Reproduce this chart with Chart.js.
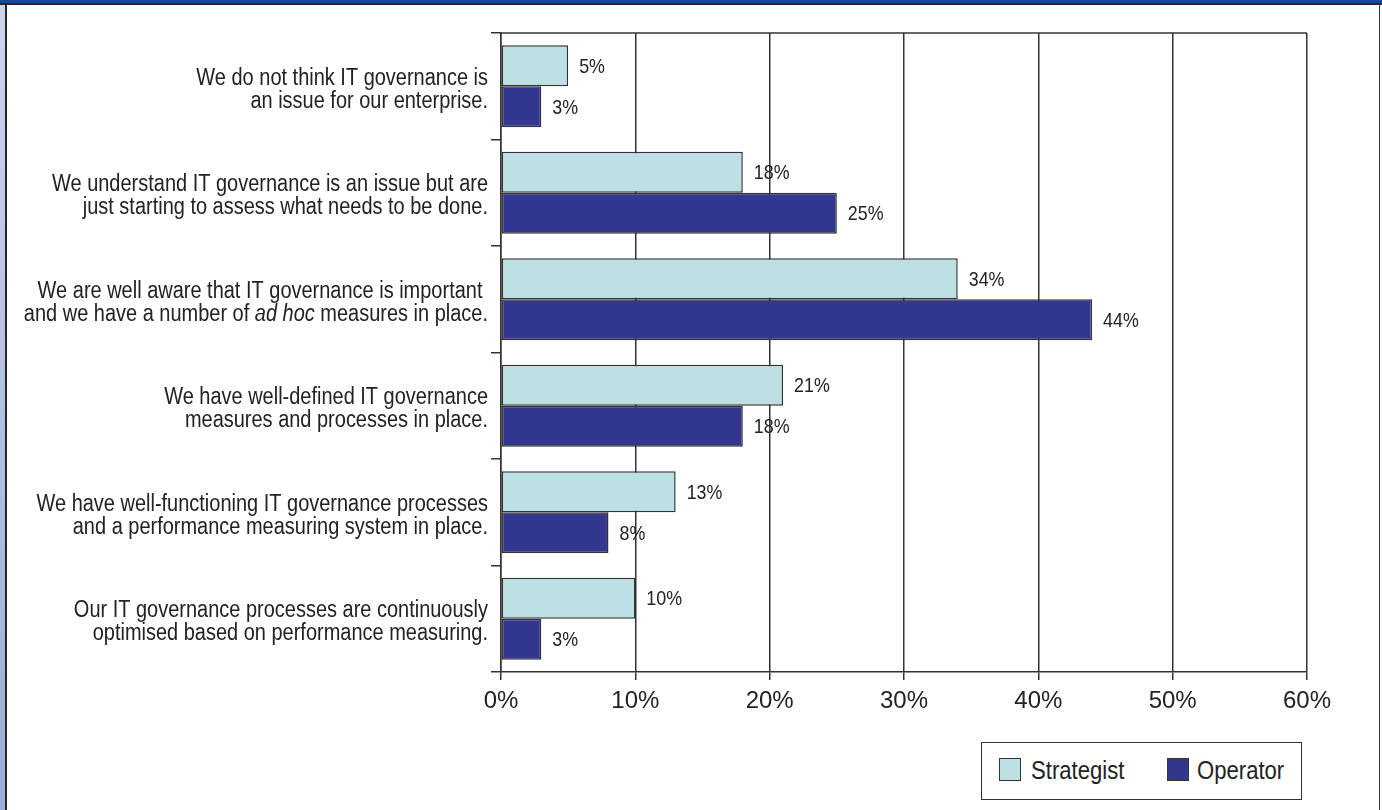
<!DOCTYPE html>
<html>
<head>
<meta charset="utf-8">
<title>IT governance maturity: Strategist vs Operator</title>
<script src="https://cdn.jsdelivr.net/npm/chart.js@4/dist/chart.umd.min.js"></script>
<style>
  html, body { margin: 0; padding: 0; background: #ffffff; }
  body { width: 1382px; height: 810px; position: relative; overflow: hidden; }
  .band-top { position: absolute; left: 0; top: 0; width: 1382px; height: 3px; background: #0f4c9c; }
  .rule-top { position: absolute; left: 0; top: 3px; width: 1382px; height: 2px; background: #262626; }
  .strip-left { position: absolute; left: 0; top: 5px; width: 5px; height: 805px;
                background: linear-gradient(#cdd4ea, #9badd8); }
  .rule-left { position: absolute; left: 5px; top: 3px; width: 2px; height: 807px; background: #262626; }
  .rule-right { position: absolute; left: 1379px; top: 3px; width: 1px; height: 807px; background: #3a3a3a; }
  #wrap { position: absolute; left: 7px; top: 5px; width: 1372px; height: 805px; }
  #legend { position: absolute; left: 981px; top: 742px; width: 319px; height: 56px;
            border: 1.5px solid #333; background: #fff;
            font-family: "Liberation Sans", Arial, sans-serif;
            font-size: 26px; color: #222; }
  #legend .sw { position: absolute; top: 15px; width: 20px; height: 21px; border: 1.5px solid #333; }
  #legend .tx { position: absolute; top: 12px; line-height: 30px; white-space: nowrap;
                transform: scaleX(0.85); transform-origin: 0 50%; }
</style>
</head>
<body>
<div class="band-top"></div>
<div class="rule-top"></div>
<div class="strip-left"></div>
<div class="rule-left"></div>
<div class="rule-right"></div>
<div id="wrap"><canvas id="chart"></canvas></div>
<div id="legend"></div>

<script>
// Survey answers (multi-line labels; *text* is set in italics)
const categories = [
  ["We do not think IT governance is", "an issue for our enterprise."],
  ["We understand IT governance is an issue but are", "just starting to assess what needs to be done."],
  ["We are well aware that IT governance is important ", "and we have a number of *ad hoc* measures in place."],
  ["We have well-defined IT governance", "measures and processes in place."],
  ["We have well-functioning IT governance processes", "and a performance measuring system in place."],
  ["Our IT governance processes are continuously", "optimised based on performance measuring."]
];

const seriesNames = ["Strategist", "Operator"];
const strategistValues = [5, 18, 34, 21, 13, 10];
const operatorValues   = [3, 25, 44, 18, 8, 3];
const seriesColors = ["#bde0e4", "#33378f"];

const xTickValues = [0, 10, 20, 30, 40, 50, 60];

const SANS = '"Liberation Sans", Arial, sans-serif';
const CONDENSE = 0.85;   // horizontal squeeze giving a condensed face
const INK = '#222222';
const LINE = '#333333';

// Draw condensed text: returns the drawn width
function condensedWidth(ctx, text) {
  return ctx.measureText(text).width * CONDENSE;
}
function fillCondensed(ctx, text, x, y) {
  ctx.save();
  ctx.translate(x, y);
  ctx.scale(CONDENSE, 1);
  ctx.fillText(text, 0, 0);
  ctx.restore();
}

// Legend with a framed box under the plot
(function buildLegend() {
  const lg = document.getElementById('legend');
  const swatchX = [17, 185];
  const textX = [49, 215];
  seriesNames.forEach((name, i) => {
    const sw = document.createElement('div');
    sw.className = 'sw';
    sw.style.left = swatchX[i] + 'px';
    sw.style.background = seriesColors[i];
    const tx = document.createElement('div');
    tx.className = 'tx';
    tx.style.left = textX[i] + 'px';
    tx.textContent = name;
    lg.appendChild(sw);
    lg.appendChild(tx);
  });
})();

// Category labels on the left, right-aligned, with italic runs
const categoryLabelPlugin = {
  id: 'categoryLabels',
  afterDraw(chart) {
    const ctx = chart.ctx;
    const y = chart.scales.y;
    const rightX = y.right - 13;
    const lineH = 23;
    ctx.save();
    ctx.fillStyle = INK;
    ctx.textBaseline = 'alphabetic';
    ctx.textAlign = 'left';
    categories.forEach((lines, i) => {
      const cy = y.getPixelForValue(i);
      lines.forEach((line, j) => {
        const base = cy + (j - (lines.length - 1) / 2) * lineH + 10;
        const parts = line.split('*').map((t, k) => ({ t, italic: k % 2 === 1 }));
        let total = 0;
        parts.forEach(p => {
          ctx.font = (p.italic ? 'italic ' : '') + '23.5px ' + SANS;
          p.w = condensedWidth(ctx, p.t);
          total += p.w;
        });
        let x = rightX - total;
        parts.forEach(p => {
          ctx.font = (p.italic ? 'italic ' : '') + '23.5px ' + SANS;
          fillCondensed(ctx, p.t, x, base);
          x += p.w;
        });
      });
    });
    ctx.restore();
  }
};

// Top edge of the plot frame and value labels after each bar
const frameAndValuesPlugin = {
  id: 'frameAndValues',
  afterDatasetsDraw(chart) {
    const ctx = chart.ctx;
    const a = chart.chartArea;
    ctx.save();
    ctx.strokeStyle = LINE;
    ctx.lineWidth = 1.5;
    ctx.beginPath();
    ctx.moveTo(a.left, a.top);
    ctx.lineTo(a.right, a.top);
    ctx.stroke();

    ctx.fillStyle = INK;
    ctx.font = '21px ' + SANS;
    ctx.textBaseline = 'alphabetic';
    ctx.textAlign = 'left';
    chart.data.datasets.forEach((ds, di) => {
      chart.getDatasetMeta(di).data.forEach((bar, i) => {
        fillCondensed(ctx, ds.data[i] + '%', bar.x + 11, bar.y + 7);
      });
    });
    ctx.restore();
  }
};

new Chart(document.getElementById('chart'), {
  type: 'bar',
  data: {
    labels: categories.map(l => l.join(' ').replace(/\*/g, '')),
    datasets: seriesNames.map((name, i) => ({
      label: name,
      data: i === 0 ? strategistValues : operatorValues,
      backgroundColor: seriesColors[i],
      borderColor: LINE,
      borderWidth: 1.5,
      borderSkipped: false,
      categoryPercentage: 0.77,
      barPercentage: 1.0
    }))
  },
  options: {
    indexAxis: 'y',
    responsive: true,
    maintainAspectRatio: false,
    animation: false,
    layout: { padding: { top: 28, right: 72, bottom: 78, left: 0 } },
    plugins: {
      legend: { display: false },
      tooltip: { enabled: false }
    },
    scales: {
      x: {
        type: 'linear',
        min: 0,
        max: 60,
        afterBuildTicks(scale) { scale.ticks = xTickValues.map(v => ({ value: v })); },
        afterFit(scale) { scale.height = 60; },
        grid: {
          color: LINE,
          lineWidth: 1.5,
          drawTicks: true,
          tickLength: 8,
          tickColor: LINE
        },
        border: { display: true, color: LINE, width: 1.5 },
        ticks: {
          padding: 7,
          color: INK,
          font: { family: SANS, size: 24 },
          callback: v => v + '%'
        }
      },
      y: {
        type: 'category',
        offset: true,
        afterFit(scale) { scale.width = 494; },
        grid: {
          offset: true,
          drawOnChartArea: false,
          drawTicks: true,
          tickLength: 10,
          color: LINE,
          tickColor: LINE,
          lineWidth: 1.5
        },
        border: { display: true, color: LINE, width: 1.5 },
        ticks: { display: false }
      }
    }
  },
  plugins: [categoryLabelPlugin, frameAndValuesPlugin]
});
</script>
</body>
</html>
